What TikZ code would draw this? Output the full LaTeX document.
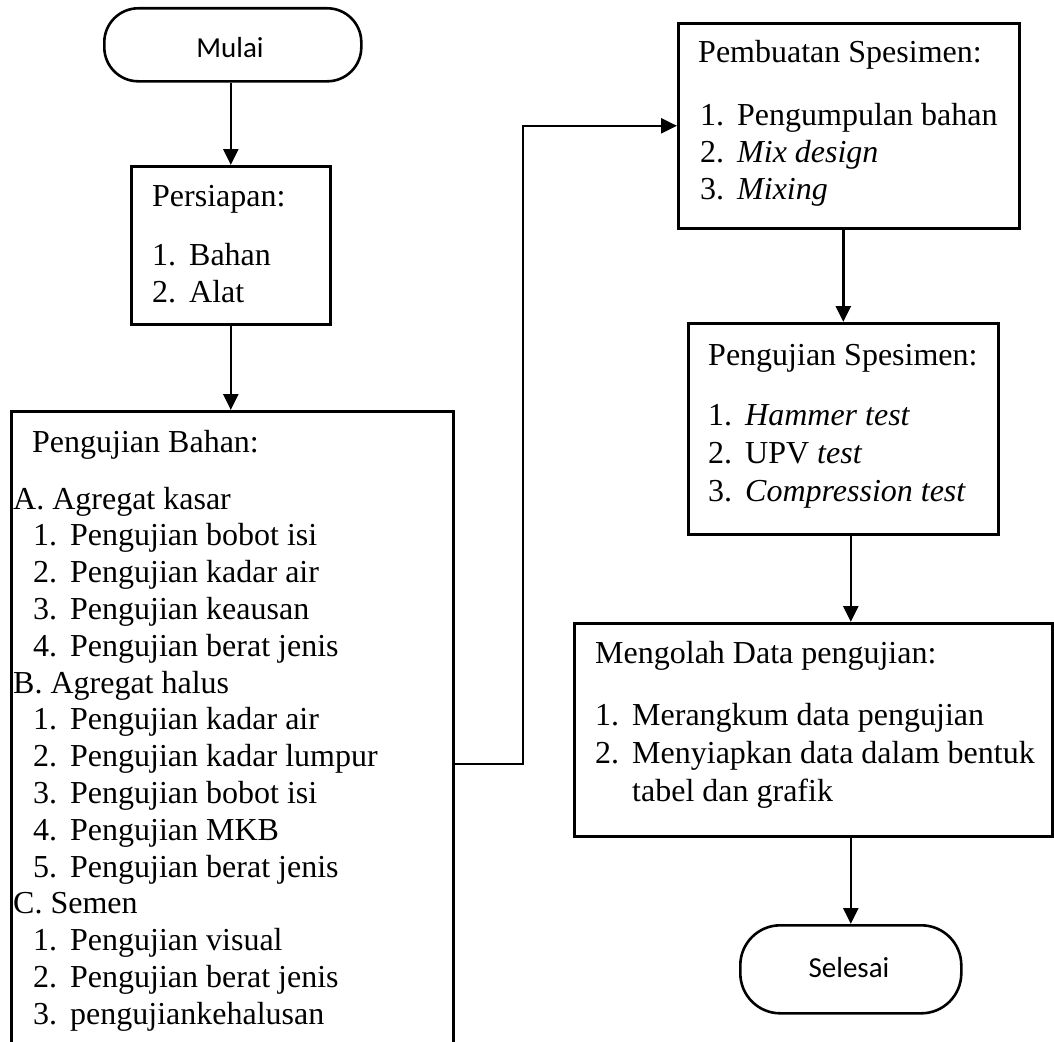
\documentclass[tikz,border=0pt]{standalone}
\usepackage{fontspec}
\setmainfont{Liberation Serif}
\newfontfamily\calibrifont{Carlito}
\usetikzlibrary{arrows.meta}

\tikzset{
  box/.style={draw, line width=2.6pt, inner sep=0pt, anchor=north west},
  term/.style={draw, line width=2.6pt, rounded corners=34pt, inner sep=0pt, anchor=north west},
  body/.style={anchor=base west, inner sep=0pt, font=\fontsize{32}{36.8}\selectfont},
  termtext/.style={anchor=base, inner sep=0pt, font=\calibrifont\fontsize{29}{35}\selectfont},
  arr/.style={line width=2.6pt, -{Triangle[length=16pt,width=15pt]}},
}
% numbered entry: number in a fixed-width slot, then the text
\newcommand\numitem[2]{\makebox[37pt][l]{#1}#2}
% numbered entry indented under a lettered group
\newcommand\groupitem[2]{\hspace*{20pt}\makebox[37pt][l]{#1}#2}

\begin{document}
\begin{tikzpicture}[x=1pt, y=-1pt]
  \clip (0,0) rectangle (1054,1041);
  \fill[white] (0,0) rectangle (1054,1041);

  % ---- boxes ----
  \node[term, minimum width=257pt, minimum height=73pt] (mulai) at (103,7) {};
  \node[box, minimum width=199pt, minimum height=158pt] (persiapan) at (130,165) {};
  \node[box, minimum width=442pt, minimum height=720pt] (bahan) at (10,410) {};
  \node[box, minimum width=341pt, minimum height=205pt] (pembuatan) at (677,22) {};
  \node[box, minimum width=310pt, minimum height=211pt] (spesimen) at (687,322) {};
  \node[box, minimum width=478pt, minimum height=213pt] (mengolah) at (573,622) {};
  \node[term, rounded corners=40pt, minimum width=221pt, minimum height=88pt] (selesai) at (739,924) {};

  % ---- terminator labels ----
  \node[termtext] (mulaitxt) at (230,57) {Mulai};
  \node[termtext] (selesaitxt) at (849,977) {Selesai};

  % ---- Persiapan ----
  \node[body] (pers0) at (152,206) {Persiapan:};
  \node[body] (pers1) at (152,265) {\numitem{1.}{Bahan}};
  \node[body] (pers2) at (152,302) {\numitem{2.}{Alat}};

  % ---- Pengujian Bahan ----
  \node[body] (bahan-title) at (32,452) {Pengujian Bahan:};
  \foreach \t [count=\i from 0] in {
      {A. Agregat kasar},
      {\groupitem{1.}{Pengujian bobot isi}},
      {\groupitem{2.}{Pengujian kadar air}},
      {\groupitem{3.}{Pengujian keausan}},
      {\groupitem{4.}{Pengujian berat jenis}},
      {B. Agregat halus},
      {\groupitem{1.}{Pengujian kadar air}},
      {\groupitem{2.}{Pengujian kadar lumpur}},
      {\groupitem{3.}{Pengujian bobot isi}},
      {\groupitem{4.}{Pengujian MKB}},
      {\groupitem{5.}{Pengujian berat jenis}},
      {C. Semen},
      {\groupitem{1.}{Pengujian visual}},
      {\groupitem{2.}{Pengujian berat jenis}},
      {\groupitem{3.}{pengujiankehalusan}}}
    \node[body] (bahan-line\i) at (13,{509+36.8*\i}) {\t};

  % ---- Pembuatan Spesimen ----
  \node[body] (pemb0) at (698,63) {Pembuatan Spesimen:};
  \node[body] (pemb1) at (700,125) {\numitem{1.}{Pengumpulan bahan}};
  \node[body] (pemb2) at (700,162) {\numitem{2.}{\textit{Mix design}}};
  \node[body] (pemb3) at (700,199) {\numitem{3.}{\textit{Mixing}}};

  % ---- Pengujian Spesimen ----
  \node[body] (spes0) at (708,365) {Pengujian Spesimen:};
  \node[body] (spes1) at (708,425) {\numitem{1.}{\textit{Hammer test}}};
  \node[body] (spes2) at (708,463) {\numitem{2.}{UPV \textit{test}}};
  \node[body] (spes3) at (708,501) {\numitem{3.}{\textit{Compression test}}};

  % ---- Mengolah Data ----
  \node[body] (olah0) at (595,663) {Mengolah Data pengujian:};
  \node[body] (olah1) at (595,725) {\numitem{1.}{Merangkum data pengujian}};
  \node[body] (olah2) at (595,763) {\numitem{2.}{Menyiapkan data dalam bentuk}};
  \node[body] (olah3) at (632,801) {tabel dan grafik};

  % ---- connectors ----
  \coordinate (bend) at (523,764);
  \draw[arr] (persiapan.north |- mulai.south) -- (persiapan.north);
  \draw[arr] (persiapan.south) -- (persiapan.south |- bahan.north);
  \draw[arr] (bahan.east |- bend) -- (bend) |- (pembuatan.west);
  \draw[arr] (pembuatan.south -| spesimen.north) -- (spesimen.north);
  \draw[arr] (spesimen.south -| selesai.north) -- (mengolah.north -| selesai.north);
  \draw[arr] (mengolah.south -| selesai.north) -- (selesai.north);
\end{tikzpicture}
\end{document}
